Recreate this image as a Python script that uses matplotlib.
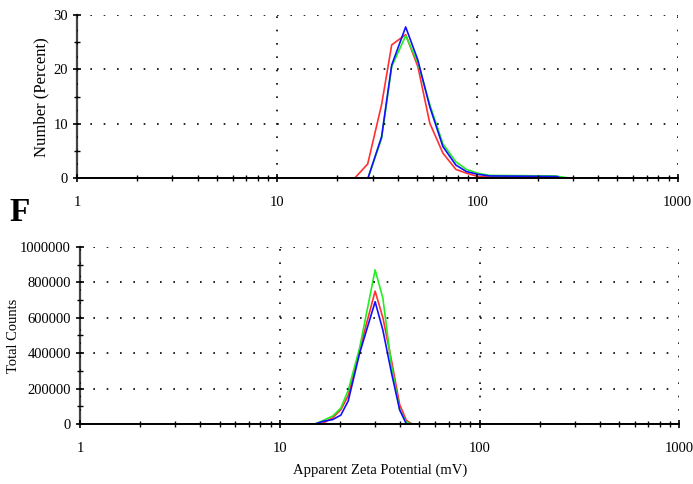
import numpy as np
import matplotlib
matplotlib.use("Agg")
import matplotlib.pyplot as plt
from matplotlib.ticker import FixedLocator, NullFormatter, MultipleLocator, FuncFormatter

plt.rcParams['font.family'] = ['Liberation Serif', 'DejaVu Serif']

# top panel: number distribution (percent) vs apparent zeta potential (mV)
top_red_x = [1, 24.4, 28.3, 33.2, 37.3, 43.8, 50.4, 57.8, 67.2, 78.0, 88.2, 100.4, 115, 243, 260, 1000]
top_red_y = [0, 0, 2.6, 13.5, 24.5, 26.4, 20.5, 10.1, 4.6, 1.6, 0.9, 0.3, 0.2, 0.2, 0, 0]
top_green_x = [24.4, 28.4, 33.2, 37.3, 43.8, 50.4, 57.8, 67.2, 78.0, 88.2, 100.4, 115, 243, 289, 1000]
top_green_y = [0, 0, 7.3, 20.5, 26.2, 21.2, 13.5, 6.3, 3.0, 1.6, 0.9, 0.5, 0.4, 0, 0]
top_blue_x = [1, 28.4, 33.2, 37.3, 43.8, 50.4, 57.8, 67.2, 78.0, 88.2, 100.4, 115, 250, 260, 1000]
top_blue_y = [0, 0, 7.6, 20.8, 27.8, 21.7, 13.1, 5.8, 2.4, 1.2, 0.7, 0.4, 0.3, 0, 0]

# bottom panel: total counts
bot_x = [15, 16.5, 18.4, 20.2, 22.0, 25.1, 30.0, 32.8, 36.2, 39.8, 43.0, 46.0]
bot_red_y = [0, 5000, 35000, 80000, 160000, 420000, 750000, 600000, 360000, 110000, 20000, 0]
bot_green_y = [0, 20000, 45000, 90000, 190000, 430000, 870000, 710000, 330000, 80000, 10000, 0]
bot_blue_y = [0, 15000, 25000, 50000, 130000, 400000, 690000, 530000, 290000, 80000, 0, 0]
bot_green_start = 1
bot_blue_start = 3.26

xticks = [1, 10, 100, 1000]
minor_x = [m * d for d in [1, 10, 100] for m in range(2, 10)]

fig = plt.figure(figsize=(6.93, 4.84), dpi=100)
ax1 = fig.add_axes([0.111, 0.632, 0.867, 0.337])
ax2 = fig.add_axes([0.1154, 0.124, 0.865, 0.366])

def style(ax):
    ax.set_xscale('log')
    ax.set_xlim(1, 1000)
    ax.xaxis.set_major_locator(FixedLocator(xticks))
    ax.xaxis.set_minor_locator(FixedLocator(minor_x))
    ax.xaxis.set_minor_formatter(NullFormatter())
    ax.xaxis.set_major_formatter(FuncFormatter(lambda v, p: '%d' % v))
    for s in ['top', 'right']:
        ax.spines[s].set_visible(False)
    ax.spines['left'].set_color('#444444')
    ax.spines['left'].set_linewidth(1.6)
    ax.spines['bottom'].set_color('black')
    ax.spines['bottom'].set_linewidth(1.4)
    ax.tick_params(axis='both', which='major', direction='inout', length=6, width=1.2,
                   labelsize=10.5, colors='black')
    ax.tick_params(axis='both', which='minor', direction='inout', length=4, width=1.0)
    ax.tick_params(axis='x', which='major', pad=10)
    ax.grid(True, which='major', color='black', linestyle=(0, (1, 7)), linewidth=1.2)
    ax.set_axisbelow(False)

# top
ax1.plot(top_red_x, top_red_y, color='#ff3030', lw=1.2)
ax1.plot(top_green_x, top_green_y, color='#22ee22', lw=1.2)
ax1.plot(top_blue_x, top_blue_y, color='#1010ff', lw=1.2)
style(ax1)
ax1.set_ylim(0, 30)
ax1.yaxis.set_major_locator(MultipleLocator(10))
ax1.yaxis.set_minor_locator(MultipleLocator(5))
ax1.set_ylabel('Number (Percent)', fontsize=12)
ax1.yaxis.set_label_coords(49 / 693, 0.80, transform=fig.transFigure)

# bottom
ax2.plot(bot_x + [1000], bot_red_y + [0], color='#ff3030', lw=1.2)
ax2.plot([bot_green_start] + bot_x + [1000], [0] + bot_green_y + [0], color='#22ee22', lw=1.2)
ax2.plot([bot_blue_start] + bot_x + [1000], [0] + bot_blue_y + [0], color='#1010ff', lw=1.2)
style(ax2)
ax2.set_ylim(0, 1000000)
ax2.yaxis.set_major_locator(MultipleLocator(200000))
ax2.yaxis.set_minor_locator(MultipleLocator(100000))
ax2.yaxis.set_major_formatter(FuncFormatter(lambda v, p: '%d' % v))
ax2.set_ylabel('Total Counts', fontsize=10.5)
ax2.yaxis.set_label_coords(20 / 693, 0.306, transform=fig.transFigure)
ax2.set_xlabel('Apparent Zeta Potential (mV)', fontsize=10.5, labelpad=6)

fig.text(0.014, 0.56, 'F', fontsize=24, fontweight='bold', va='center', ha='left')

fig.savefig('out.png', dpi=100)
